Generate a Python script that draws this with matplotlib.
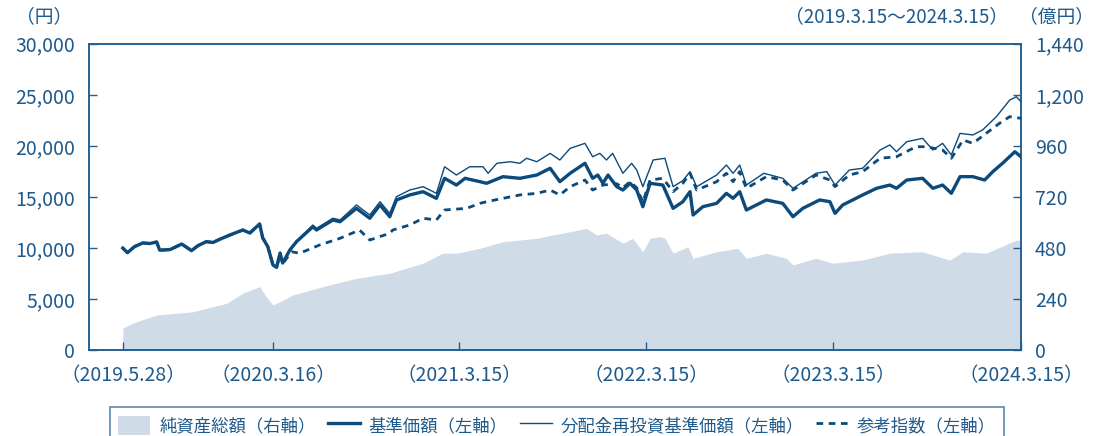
import matplotlib
matplotlib.use("Agg")
import matplotlib.pyplot as plt
from matplotlib.patches import Patch
from matplotlib.lines import Line2D
import pandas as pd

plt.rcParams['font.family'] = ['Noto Sans CJK JP', 'DejaVu Sans']

# ---------------- data ----------------
# segment where 基準価額, 分配金再投資基準価額 and 参考指数 coincide
shared_dates = ["2019-05-28", "2019-06-06", "2019-06-20", "2019-07-06", "2019-07-20",
                "2019-08-02", "2019-08-08", "2019-08-28", "2019-09-20", "2019-10-09",
                "2019-10-22", "2019-11-07", "2019-11-20", "2019-12-03", "2019-12-23",
                "2020-01-17", "2020-01-31", "2020-02-19", "2020-02-25", "2020-03-06",
                "2020-03-16", "2020-03-23"]
shared_values = [10000, 9550, 10150, 10500, 10450,
                 10600, 9800, 9850, 10400, 9750,
                 10250, 10630, 10550, 10860, 11280,
                 11770, 11480, 12360, 11000, 10140,
                 8350, 8120]

nav_dates = ["2020-03-30", "2020-04-04", "2020-04-18", "2020-05-01", "2020-06-02",
             "2020-06-09", "2020-07-11", "2020-07-25", "2020-08-26", "2020-09-21",
             "2020-10-11", "2020-10-30", "2020-11-12", "2020-12-08", "2021-01-03",
             "2021-01-29", "2021-02-14", "2021-03-09", "2021-03-26", "2021-04-24",
             "2021-05-07", "2021-06-08", "2021-07-11", "2021-08-13", "2021-09-08",
             "2021-09-27", "2021-10-17", "2021-11-15", "2021-11-30", "2021-12-10",
             "2021-12-20", "2021-12-30", "2022-01-16", "2022-01-28", "2022-02-11",
             "2022-02-24", "2022-03-08", "2022-03-22", "2022-04-16", "2022-05-06",
             "2022-05-25", "2022-06-08", "2022-06-14", "2022-07-03", "2022-07-30",
             "2022-08-18", "2022-08-31", "2022-09-13", "2022-09-26", "2022-10-22",
             "2022-11-04", "2022-12-06", "2022-12-26", "2023-01-14", "2023-02-16",
             "2023-03-08", "2023-03-18", "2023-04-02", "2023-05-11", "2023-06-07",
             "2023-07-03", "2023-07-16", "2023-08-05", "2023-09-05", "2023-09-25",
             "2023-10-14", "2023-10-31", "2023-11-17", "2023-12-12", "2024-01-04",
             "2024-01-20", "2024-02-08", "2024-03-03", "2024-03-15"]
nav_values = [9520, 8540, 9810, 10630, 12090,
              11770, 12750, 12580, 13890, 12920,
              14220, 13070, 14710, 15200, 15520,
              14870, 16830, 16170, 16830, 16500,
              16340, 16990, 16830, 17150, 17810,
              16500, 17320, 18300, 16830, 17150,
              16340, 17150, 16010, 15680, 16340,
              15680, 14050, 16340, 16170, 13890,
              14540, 15520, 13240, 14050, 14380,
              15360, 14870, 15520, 13730, 14380,
              14710, 14380, 13070, 13890, 14710,
              14540, 13400, 14220, 15200, 15850,
              16170, 15850, 16660, 16830, 15850,
              16170, 15360, 16990, 16990, 16660,
              17480, 18300, 19430, 18940]

reinv_dates = ["2020-03-30", "2020-04-04", "2020-04-18", "2020-05-01", "2020-06-02",
               "2020-06-09", "2020-07-11", "2020-07-25", "2020-08-26", "2020-09-21",
               "2020-10-11", "2020-10-30", "2020-11-12", "2020-12-08", "2021-01-03",
               "2021-01-29", "2021-02-14", "2021-03-09", "2021-04-04", "2021-04-30",
               "2021-05-10", "2021-05-27", "2021-06-22", "2021-07-11", "2021-07-24",
               "2021-08-13", "2021-09-08", "2021-09-27", "2021-10-17", "2021-11-15",
               "2021-11-30", "2021-12-14", "2021-12-27", "2022-01-08", "2022-01-28",
               "2022-02-14", "2022-02-24", "2022-03-08", "2022-03-28", "2022-04-20",
               "2022-05-06", "2022-05-25", "2022-06-08", "2022-06-21", "2022-07-30",
               "2022-08-18", "2022-08-31", "2022-09-13", "2022-09-26", "2022-10-30",
               "2022-12-06", "2022-12-26", "2023-02-09", "2023-03-02", "2023-03-18",
               "2023-04-15", "2023-05-11", "2023-06-14", "2023-07-03", "2023-07-16",
               "2023-08-05", "2023-09-05", "2023-09-25", "2023-10-14", "2023-10-31",
               "2023-11-17", "2023-12-12", "2023-12-31", "2024-01-27", "2024-02-22",
               "2024-03-06", "2024-03-15"]
reinv_values = [9520, 8540, 9900, 10700, 12260,
                11930, 12920, 12750, 14220, 13240,
                14540, 13400, 15030, 15680, 16010,
                15360, 17960, 17150, 17960, 17960,
                17320, 18300, 18450, 18300, 18790,
                18450, 19270, 18620, 19760, 20250,
                18940, 19270, 18620, 19270, 17320,
                18300, 17640, 16010, 18620, 18790,
                16010, 16600, 17480, 16010, 17150,
                18130, 17320, 18130, 16170, 17320,
                16830, 15850, 17320, 17480, 16170,
                17640, 17810, 19600, 20090, 19430,
                20410, 20740, 19600, 20250, 19110,
                21230, 21070, 21560, 22860, 24490,
                24810, 24320]

index_dates = ["2020-03-30", "2020-04-04", "2020-04-21", "2020-05-07", "2020-06-15",
               "2020-07-25", "2020-09-01", "2020-09-21", "2020-10-30", "2020-11-05",
               "2020-12-08", "2021-01-03", "2021-01-29", "2021-02-14", "2021-03-29",
               "2021-04-24", "2021-05-07", "2021-06-08", "2021-07-11", "2021-08-13",
               "2021-09-08", "2021-09-27", "2021-10-17", "2021-11-15", "2021-11-30",
               "2021-12-20", "2022-01-16", "2022-01-28", "2022-02-11", "2022-02-24",
               "2022-03-08", "2022-03-22", "2022-04-16", "2022-05-06", "2022-05-25",
               "2022-06-08", "2022-06-21", "2022-07-30", "2022-08-18", "2022-08-31",
               "2022-09-13", "2022-09-26", "2022-11-04", "2022-12-06", "2022-12-26",
               "2023-02-09", "2023-03-08", "2023-03-18", "2023-04-15", "2023-05-11",
               "2023-06-14", "2023-07-16", "2023-08-23", "2023-09-12", "2023-10-14",
               "2023-10-31", "2023-11-23", "2023-12-12", "2024-01-07", "2024-02-02",
               "2024-02-22", "2024-03-15"]
index_values = [9300, 8450, 9650, 9490, 10300,
                10960, 11770, 10790, 11450, 11770,
                12260, 12920, 12750, 13730, 13890,
                14380, 14540, 14870, 15200, 15360,
                15680, 15200, 16010, 16660, 15680,
                16170, 16300, 15900, 16500, 15900,
                14500, 16660, 16830, 15520, 16340,
                17320, 15680, 16500, 17320, 16500,
                17480, 15850, 16990, 16660, 15680,
                17150, 16660, 16010, 17150, 17480,
                18790, 18940, 19920, 19920, 19600,
                18790, 20580, 20250, 21230, 22210,
                22860, 22700]

assets_dates = ["2019-05-28", "2019-06-05", "2019-06-24", "2019-08-02", "2019-10-12",
                "2019-12-17", "2020-01-17", "2020-02-19", "2020-03-03", "2020-03-16",
                "2020-03-30", "2020-04-23", "2020-05-07", "2020-06-21", "2020-08-26",
                "2020-10-30", "2021-01-03", "2021-02-10", "2021-03-09", "2021-04-24",
                "2021-06-08", "2021-08-13", "2021-09-13", "2021-10-17", "2021-11-18",
                "2021-12-08", "2021-12-27", "2022-01-28", "2022-02-16", "2022-03-08",
                "2022-03-22", "2022-04-10", "2022-04-20", "2022-05-06", "2022-06-04",
                "2022-06-14", "2022-07-30", "2022-09-09", "2022-09-26", "2022-11-04",
                "2022-12-13", "2022-12-26", "2023-02-09", "2023-03-14", "2023-05-11",
                "2023-07-03", "2023-09-05", "2023-10-28", "2023-11-23", "2024-01-07",
                "2024-03-06", "2024-03-15"]
assets_values = [103, 115, 134, 166, 181,
                 221, 268, 299, 252, 213,
                 228, 260, 268, 299, 338,
                 362, 409, 456, 456, 479,
                 510, 526, 542, 557, 573,
                 542, 550, 503, 526, 463,
                 526, 534, 526, 456, 487,
                 432, 463, 479, 432, 456,
                 432, 401, 432, 409, 424,
                 456, 463, 424, 463, 456,
                 518, 515]

left_ticks = [0, 5000, 10000, 15000, 20000, 25000, 30000]
left_labels = ["0", "5,000", "10,000", "15,000", "20,000", "25,000", "30,000"]
right_ticks = [0, 240, 480, 720, 960, 1200, 1440]
right_labels = ["0", "240", "480", "720", "960", "1,200", "1,440"]
x_tick_dates = ["2019-05-28", "2020-03-16", "2021-03-15", "2022-03-15", "2023-03-15", "2024-03-15"]
x_tick_labels = ["（2019.5.28）", "（2020.3.16）", "（2021.3.15）", "（2022.3.15）", "（2023.3.15）", "（2024.3.15）"]
legend_labels = ["純資産総額（右軸）", "基準価額（左軸）", "分配金再投資基準価額（左軸）", "参考指数（左軸）"]

# ---------------- style ----------------
LINE = "#0b4a7b"
AXC = "#1f5e92"
TXT = "#1f5a8c"
FILL = "#cfdce7"

fig = plt.figure(figsize=(10.96, 4.36), dpi=100)
ax = fig.add_axes([89 / 1096, 1 - 350.3 / 436, (1021 - 89) / 1096, (350.3 - 43.7) / 436])
ax2 = ax.twinx()
ax.set_zorder(ax2.get_zorder() + 1)
ax.patch.set_visible(False)

td = pd.to_datetime
ax2.fill_between(td(assets_dates), 0, assets_values, color=FILL, linewidth=0)

ax.plot(td(shared_dates + reinv_dates), shared_values + reinv_values, color=LINE, lw=1.0, zorder=3)
ax.plot(td(shared_dates + index_dates), shared_values + index_values, color=LINE, lw=2.0,
        linestyle=(0, (2.4, 2.0)), zorder=4)
ax.plot(td(shared_dates + nav_dates), shared_values + nav_values, color=LINE, lw=2.4, zorder=5)

ax.set_xlim(td("2019-03-23"), td("2024-03-15"))
ax.set_ylim(0, 30000)
ax2.set_ylim(0, 1440)

ax.set_yticks(left_ticks)
ax.set_yticklabels(left_labels)
ax2.set_yticks(right_ticks)
ax2.set_yticklabels(right_labels)
ax.set_xticks(td(x_tick_dates))
ax.set_xticklabels(x_tick_labels)

for a in (ax, ax2):
    for s in a.spines.values():
        s.set_color(AXC)
        s.set_linewidth(1.1)
ax.tick_params(axis='y', direction='in', length=6, width=1, color=AXC, labelcolor=TXT,
               labelsize=14, pad=10)
ax2.tick_params(axis='y', direction='in', length=6, width=1, color=AXC, labelcolor=TXT,
                labelsize=14, pad=10)
ax.tick_params(axis='x', direction='in', length=6, width=1, color=AXC, labelcolor=TXT,
               labelsize=14, pad=11)

fig.text(72 / 1096, 1 - 17 / 436, "（円）", ha='right', va='center', color=TXT, fontsize=13.5)
fig.text(1008 / 1096, 1 - 17 / 436, "（2019.3.15～2024.3.15）", ha='right', va='center',
         color=TXT, fontsize=13.5)
fig.text(1094 / 1096, 1 - 17 / 436, "（億円）", ha='right', va='center', color=TXT, fontsize=13.5)

handles = [Patch(facecolor=FILL, edgecolor='none'),
           Line2D([], [], color=LINE, lw=2.4),
           Line2D([], [], color=LINE, lw=1.0),
           Line2D([], [], color=LINE, lw=2.0, linestyle=(0, (2.4, 2.0)))]
leg = fig.legend(handles, legend_labels, loc='upper center', bbox_to_anchor=(557 / 1096, 1 - 407 / 436),
                 ncol=4, frameon=True, fancybox=False, fontsize=12.5, handlelength=1.85,
                 handleheight=1.3, handletextpad=0.5, columnspacing=0.7, borderpad=0.5,
                 borderaxespad=0)
leg.get_frame().set_edgecolor(AXC)
leg.get_frame().set_linewidth(1.1)
for t in leg.get_texts():
    t.set_color(TXT)

fig.savefig("out.png", dpi=100)
